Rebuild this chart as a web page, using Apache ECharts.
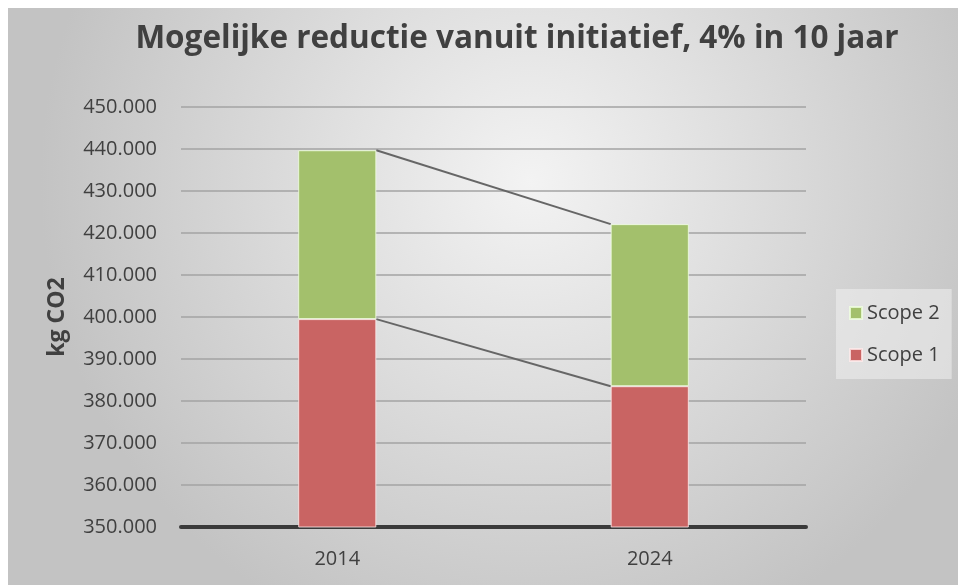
<!DOCTYPE html>
<html>
<head>
<meta charset="utf-8">
<script src="https://cdn.jsdelivr.net/npm/echarts@6/dist/echarts.min.js"></script>
<style>
  html, body { margin: 0; padding: 0; background: #ffffff; }
  #chart { position: absolute; left: 8px; top: 8px; width: 950px; height: 577px; }
</style>
</head>
<body>
<div id="chart"></div>
<script>
// data
const years = ["2014", "2024"];
const scope1 = [399500, 383520];
const scope2 = [40200, 38590];
const yTicks = { min: 350000, max: 450000, step: 10000 };

const totals = scope1.map((v, i) => v + scope2[i]);
// one row per gap between bars: [index, bottom now, top now, bottom next, top next]
const connectorData = [];
for (let i = 0; i < years.length - 1; i++) {
  connectorData.push([i, scope1[i], totals[i], scope1[i + 1], totals[i + 1]]);
}

const BAR_RATIO = 0.25;
const textFont = "Open Sans";

function fmt(v) {
  return String(v).replace(/\B(?=(\d{3})+(?!\d))/g, ".");
}

const chart = echarts.init(document.getElementById("chart"));

chart.setOption({
  backgroundColor: new echarts.graphic.RadialGradient(0.55, 0.3, 0.85, [
    { offset: 0, color: "#f3f3f3" },
    { offset: 1, color: "#c3c3c3" }
  ]),
  animation: false,
  title: {
    text: "Mogelijke reductie vanuit initiatief, 4% in 10 jaar",
    left: 504,
    top: 10,
    textAlign: "center",
    textStyle: {
      fontFamily: textFont,
      fontWeight: "bold",
      fontSize: 31.5,
      color: "#404040"
    }
  },
  legend: {
    data: ["Scope 2", "Scope 1"],
    orient: "vertical",
    left: 828,
    top: 281,
    padding: [14, 12, 14, 13],
    itemGap: 22,
    itemWidth: 12,
    itemHeight: 12,
    icon: "rect",
    backgroundColor: "rgba(240,240,240,0.55)",
    textStyle: { fontFamily: textFont, fontSize: 20, color: "#404040" }
  },
  grid: { left: 173, right: 152, top: 99, bottom: 58 },
  xAxis: {
    type: "category",
    data: years,
    axisTick: { show: false },
    axisLine: { lineStyle: { color: "#3a3a3a", width: 4 } },
    axisLabel: {
      margin: 22,
      fontFamily: textFont,
      fontSize: 20,
      color: "#404040"
    }
  },
  yAxis: {
    type: "value",
    min: yTicks.min,
    max: yTicks.max,
    interval: yTicks.step,
    name: "kg CO2",
    nameLocation: "middle",
    nameRotate: 90,
    nameGap: 112,
    nameTextStyle: {
      fontFamily: textFont,
      fontWeight: "bold",
      fontSize: 23,
      color: "#404040"
    },
    axisLine: { show: false },
    axisTick: { show: false },
    axisLabel: {
      margin: 24,
      fontFamily: textFont,
      fontSize: 20,
      color: "#404040",
      formatter: fmt
    },
    splitLine: { lineStyle: { color: "#a3a3a3", width: 1.5 } }
  },
  series: [
    {
      name: "Scope 1",
      type: "bar",
      stack: "co2",
      barWidth: BAR_RATIO * 100 + "%",
      data: scope1,
      itemStyle: {
        color: "#c96463",
        borderColor: "rgba(255,235,235,0.8)",
        borderWidth: 1
      }
    },
    {
      name: "Scope 2",
      type: "bar",
      stack: "co2",
      data: scope2,
      itemStyle: {
        color: "#a3c06c",
        borderColor: "rgba(240,255,225,0.8)",
        borderWidth: 1
      }
    },
    {
      // series lines between the stacked bars
      type: "custom",
      silent: true,
      data: connectorData,
      encode: { x: 0, y: [1, 2, 3, 4] },
      renderItem: function (params, api) {
        const i = api.value(0);
        const half = api.size([1, 0])[0] * BAR_RATIO / 2;
        const x0 = api.coord([i, 0])[0] + half;
        const x1 = api.coord([i + 1, 0])[0] - half;
        const style = { stroke: "#666666", lineWidth: 2 };
        const kids = [];
        [[1, 3], [2, 4]].forEach(function (p) {
          const y0 = api.coord([i, api.value(p[0])])[1];
          const y1 = api.coord([i + 1, api.value(p[1])])[1];
          kids.push({
            type: "line",
            shape: { x1: x0, y1: y0, x2: x1, y2: y1 },
            style: style
          });
        });
        return { type: "group", children: kids };
      },
      z: 1
    }
  ]
});
</script>
</body>
</html>
